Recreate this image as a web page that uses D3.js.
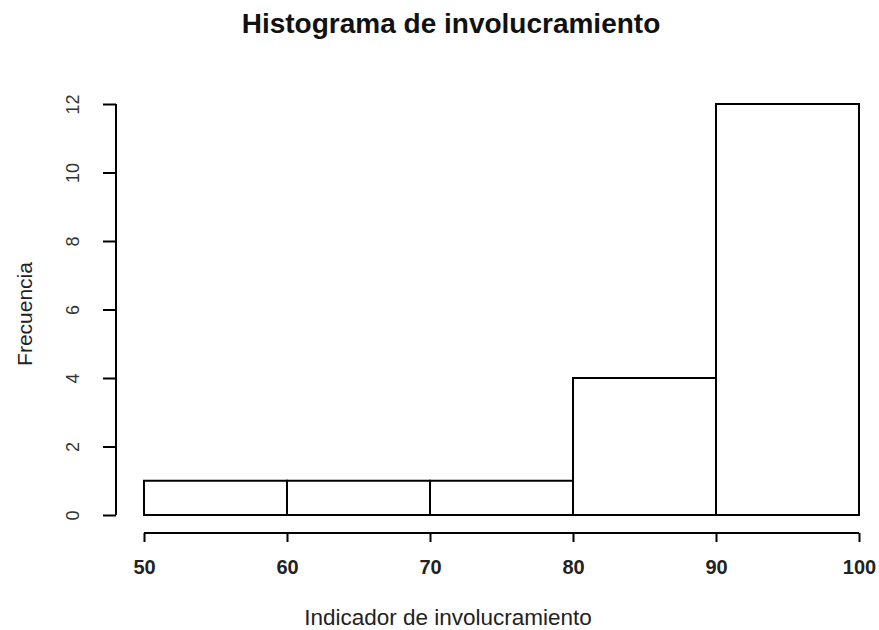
<!DOCTYPE html>
<html>
<head>
<meta charset="utf-8">
<script src="https://cdn.jsdelivr.net/npm/d3@7"></script>
<style>
  body { margin: 0; background: #fff; }
  svg { font-family: "Liberation Sans", Arial, sans-serif; }
</style>
</head>
<body>
<div id="chart"></div>
<script>
// histogram bins and counts
var binStarts = [50, 60, 70, 80, 90];
var binEnds = [60, 70, 80, 90, 100];
var counts = [1, 1, 1, 4, 12];
var xTicks = [50, 60, 70, 80, 90, 100];
var yTicks = [0, 2, 4, 6, 8, 10, 12];

var width = 879, height = 630;

var svg = d3.select("#chart").append("svg")
    .attr("width", width)
    .attr("height", height);

var x = d3.scaleLinear().domain([50, 100]).range([144, 859]),
    y = d3.scaleLinear().domain([0, 12]).range([515, 104]);

// bars
svg.append("g").selectAll("rect")
  .data(counts)
  .enter().append("rect")
    .attr("x", function(d, i) { return x(binStarts[i]); })
    .attr("y", function(d) { return y(d); })
    .attr("width", function(d, i) { return x(binEnds[i]) - x(binStarts[i]); })
    .attr("height", function(d) { return y(0) - y(d); })
    .attr("fill", "#fff")
    .attr("stroke", "#000")
    .attr("stroke-width", 2);

// x axis
var xAxis = svg.append("g")
    .attr("transform", "translate(0,533)")
    .call(d3.axisBottom(x).tickValues(xTicks).tickSize(9).tickPadding(18).tickFormat(d3.format("d")));
xAxis.select(".domain").attr("stroke-width", 2).attr("d", "M144,0H859");
xAxis.selectAll(".tick line").attr("stroke-width", 2);
xAxis.selectAll(".tick text")
    .attr("font-size", 20)
    .attr("font-weight", "bold")
    .attr("fill", "#222")
    .attr("font-family", "Liberation Sans, Arial, sans-serif");

// y axis
var yAxis = svg.append("g")
    .attr("transform", "translate(116,0)")
    .call(d3.axisLeft(y).tickValues(yTicks).tickSize(13).tickPadding(0));
yAxis.select(".domain").attr("stroke-width", 2).attr("d", "M0,104V515");
yAxis.selectAll(".tick line").attr("stroke-width", 2);
yAxis.selectAll(".tick text")
    .attr("font-size", 18)
    .attr("fill", "#333")
    .attr("font-family", "Liberation Sans, Arial, sans-serif")
    .attr("text-anchor", "middle")
    .attr("dy", null)
    .attr("x", null)
    .attr("transform", "translate(-43,0) rotate(-90)")
    .attr("dominant-baseline", "central");

// title
svg.append("text")
    .attr("x", 451)
    .attr("y", 33)
    .attr("text-anchor", "middle")
    .attr("font-size", 28)
    .attr("font-weight", "bold")
    .attr("fill", "#111")
    .text("Histograma de involucramiento");

// axis labels
svg.append("text")
    .attr("x", 448)
    .attr("y", 625)
    .attr("text-anchor", "middle")
    .attr("font-size", 22.5)
    .attr("fill", "#222")
    .text("Indicador de involucramiento");

svg.append("text")
    .attr("transform", "translate(32,314) rotate(-90)")
    .attr("text-anchor", "middle")
    .attr("font-size", 21)
    .attr("fill", "#222")
    .text("Frecuencia");
</script>
</body>
</html>
